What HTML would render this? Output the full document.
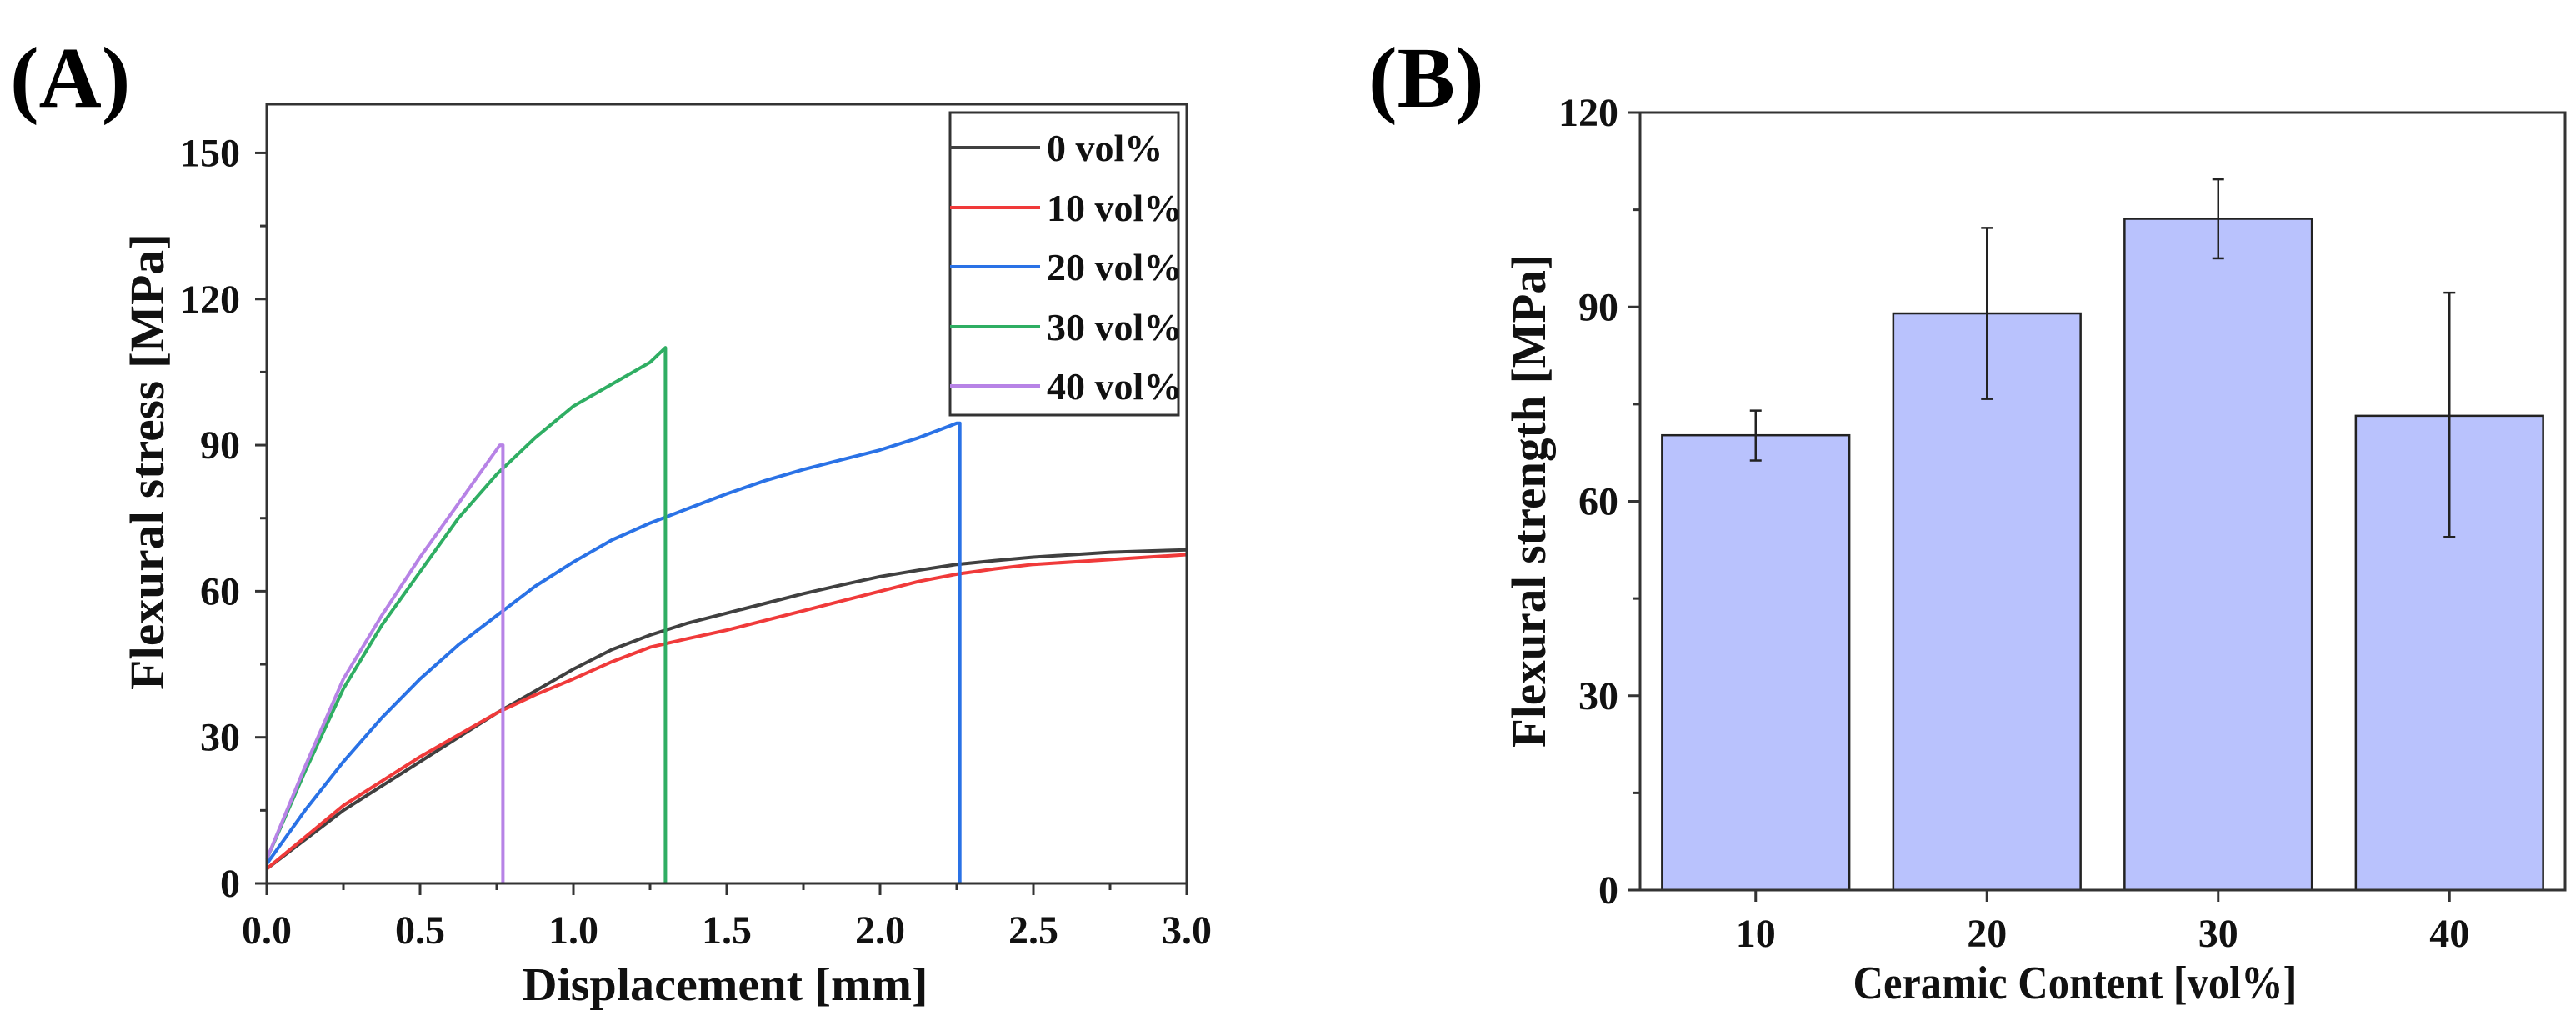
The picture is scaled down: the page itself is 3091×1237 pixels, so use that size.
<!DOCTYPE html>
<html><head><meta charset="utf-8"><style>
html,body{margin:0;padding:0;background:#fff;}
svg{display:block;font-family:"Liberation Serif",serif;font-weight:bold;}
</style></head><body>
<svg id="fig" width="3091" height="1237" viewBox="0 0 3091 1237">
<text x="12" y="128" font-size="104">(A)</text>
<text x="1642" y="128" font-size="104">(B)</text>
<g id="ga"></g>
<g id="gb"></g>
</svg>
<script>
// ---- Panel A data ----
const seriesNames = ["0 vol%","10 vol%","20 vol%","30 vol%","40 vol%"];
const seriesColors = ["#404040","#f03a3a","#2a72e6","#2fae63","#b783e6"];
const s0x = [0,0.125,0.25,0.375,0.5,0.625,0.75,0.875,1.0,1.125,1.25,1.375,1.5,1.625,1.75,1.875,2.0,2.125,2.25,2.375,2.5,2.75,3.0];
const s0y = [3,9,15,20,25,30,35,39.5,44,48,51,53.5,55.5,57.5,59.5,61.3,63,64.3,65.5,66.3,67,68,68.5];
const s1x = [0,0.125,0.25,0.375,0.5,0.625,0.75,0.875,1.0,1.125,1.25,1.375,1.5,1.625,1.75,1.875,2.0,2.125,2.25,2.375,2.5,2.75,3.0];
const s1y = [3,9.5,16,21,26,30.5,35,38.7,42,45.5,48.5,50.3,52,54,56,58,60,62,63.5,64.6,65.5,66.5,67.5];
const s2x = [0,0.125,0.25,0.375,0.5,0.625,0.75,0.875,1.0,1.125,1.25,1.375,1.5,1.625,1.75,1.875,2.0,2.125,2.25,2.26,2.26];
const s2y = [4,15,25,34,42,49,55,61,66,70.5,74,77,80,82.7,85,87,89,91.5,94.5,94.5,0];
const s3x = [0,0.125,0.25,0.375,0.5,0.625,0.75,0.875,1.0,1.125,1.25,1.3,1.3];
const s3y = [5,23,40,53,64,75,84,91.5,98,102.5,107,110,0];
const s4x = [0,0.125,0.25,0.375,0.5,0.625,0.76,0.77,0.77];
const s4y = [5,24,42,55,67,78,90,90,0];
const xTicksA = [0,0.5,1.0,1.5,2.0,2.5,3.0];
const xTickLabelsA = ["0.0","0.5","1.0","1.5","2.0","2.5","3.0"];
const yTicksA = [0,30,60,90,120,150];
// ---- Panel B data ----
const categories = ["10","20","30","40"];
const strength = [70.2,89,103.6,73.2];
const errLow = [66.3,75.8,97.5,54.5];
const errHigh = [74,102.2,109.7,92.2];
const yTicksB = [0,30,60,90,120];

const NS="http://www.w3.org/2000/svg";
function mk(parent,tag,attrs){const e=document.createElementNS(NS,tag);for(const k in attrs)e.setAttribute(k,attrs[k]);parent.appendChild(e);return e;}

// Panel A
const ga=document.getElementById('ga');
const A={l:320,r:1424,t:125,b:1060,xmax:3,ymax:160};
const xA=v=>A.l+(A.r-A.l)*v/A.xmax;
const yA=v=>A.b-(A.b-A.t)*v/A.ymax;
const sx=[s0x,s1x,s2x,s3x,s4x], sy=[s0y,s1y,s2y,s3y,s4y];
for(let i=0;i<5;i++){
  let d=sx[i].map((x,j)=>(j?'L':'M')+xA(x).toFixed(1)+' '+yA(sy[i][j]).toFixed(1)).join(' ');
  const p=mk(ga,'path',{d:d,fill:'none',stroke:seriesColors[i],'stroke-width':4,'stroke-linejoin':'round'});
  
  
}
mk(ga,'rect',{x:A.l,y:A.t,width:A.r-A.l,height:A.b-A.t,fill:'none',stroke:'#333','stroke-width':3});
for(let v=0;v<=3.001;v+=0.25){
  const major=Math.abs(v*2-Math.round(v*2))<1e-6;
  mk(ga,'line',{x1:xA(v),x2:xA(v),y1:A.b,y2:A.b+(major?14:8),stroke:'#333','stroke-width':3});
}
xTicksA.forEach((v,i)=>{
  const t=mk(ga,'text',{x:xA(v),y:A.b+72,'font-size':48,'text-anchor':'middle',fill:'#111'});
  t.textContent=xTickLabelsA[i];
  
  
});
for(let v=0;v<=160;v+=15){
  const major=v%30===0;
  mk(ga,'line',{x1:A.l,x2:A.l-(major?14:8),y1:yA(v),y2:yA(v),stroke:'#333','stroke-width':3});
}
yTicksA.forEach(v=>{
  const t=mk(ga,'text',{x:288,y:yA(v)+16,'font-size':48,'text-anchor':'end',fill:'#111'});
  t.textContent=String(v);
  
  
});
let t=mk(ga,'text',{x:870,y:1200,'font-size':56,'text-anchor':'middle',textLength:487,lengthAdjust:'spacingAndGlyphs',fill:'#111'});
t.textContent='Displacement [mm]';


t=mk(ga,'text',{x:0,y:0,'font-size':58,'text-anchor':'middle',textLength:548,lengthAdjust:'spacingAndGlyphs',transform:'translate(196,554) rotate(-90)',fill:'#111'});
t.textContent='Flexural stress [MPa]';


const leg=mk(ga,'g',{});


mk(leg,'rect',{x:1140,y:135,width:274,height:363,fill:'#fff',stroke:'#333','stroke-width':3});
const rows=[177,249,320,392,463];
seriesNames.forEach((n,i)=>{
  mk(leg,'line',{x1:1140,x2:1248,y1:rows[i],y2:rows[i],stroke:seriesColors[i],'stroke-width':4});
  const tt=mk(leg,'text',{x:1256,y:rows[i]+16,'font-size':46,fill:'#111'});
  tt.textContent=n;
  
  
});

// Panel B
const gb=document.getElementById('gb');
const B={l:1968,r:3078,t:135,b:1068,ymax:120};
const cw=(B.r-B.l)/categories.length;
const xB=i=>B.l+cw*(i+0.5);
const yB=v=>B.b-(B.b-B.t)*v/B.ymax;
const bw=cw*0.81;
strength.forEach((v,i)=>{
  const r=mk(gb,'rect',{x:xB(i)-bw/2,y:yB(v),width:bw,height:B.b-yB(v),fill:'#b9c2fd',stroke:'#222','stroke-width':2.5});
  
  
  const e=mk(gb,'g',{stroke:'#222','stroke-width':2.5});
  
  
  mk(e,'line',{x1:xB(i),x2:xB(i),y1:yB(errLow[i]),y2:yB(errHigh[i])});
  mk(e,'line',{x1:xB(i)-7,x2:xB(i)+7,y1:yB(errLow[i]),y2:yB(errLow[i])});
  mk(e,'line',{x1:xB(i)-7,x2:xB(i)+7,y1:yB(errHigh[i]),y2:yB(errHigh[i])});
});
mk(gb,'rect',{x:B.l,y:B.t,width:B.r-B.l,height:B.b-B.t,fill:'none',stroke:'#333','stroke-width':3});
for(let v=0;v<=120;v+=15){
  const major=v%30===0;
  mk(gb,'line',{x1:B.l,x2:B.l-(major?14:8),y1:yB(v),y2:yB(v),stroke:'#333','stroke-width':3});
}
yTicksB.forEach(v=>{
  const tt=mk(gb,'text',{x:1942,y:yB(v)+16,'font-size':48,'text-anchor':'end',fill:'#111'});
  tt.textContent=String(v);
  
  
});
categories.forEach((c,i)=>{
  mk(gb,'line',{x1:xB(i),x2:xB(i),y1:B.b,y2:B.b+14,stroke:'#333','stroke-width':3});
  const tt=mk(gb,'text',{x:xB(i),y:B.b+68,'font-size':48,'text-anchor':'middle',fill:'#111'});
  tt.textContent=c;
  
  
});
t=mk(gb,'text',{x:2490,y:1198,'font-size':56,'text-anchor':'middle',textLength:533,lengthAdjust:'spacingAndGlyphs',fill:'#111'});
t.textContent='Ceramic Content [vol%]';


t=mk(gb,'text',{x:0,y:0,'font-size':58,'text-anchor':'middle',textLength:592,lengthAdjust:'spacingAndGlyphs',transform:'translate(1854,601) rotate(-90)',fill:'#111'});
t.textContent='Flexural strength [MPa]';


</script>
</body></html>
